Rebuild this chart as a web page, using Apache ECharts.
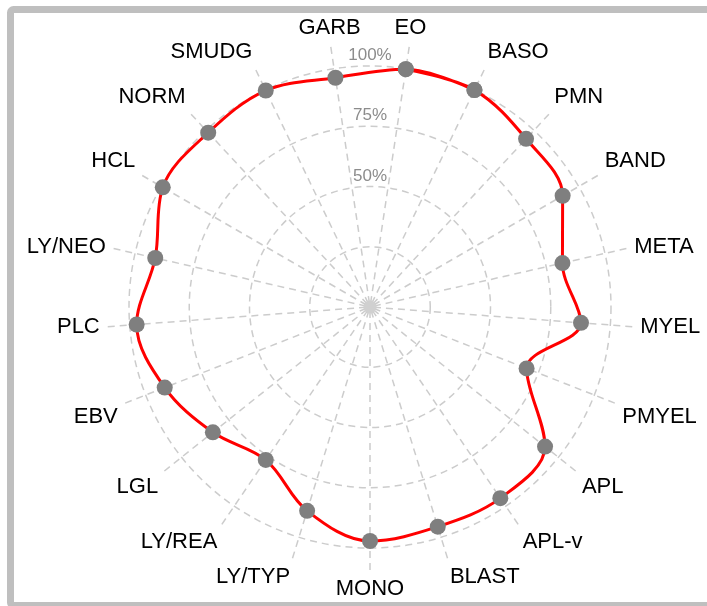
<!DOCTYPE html>
<html>
<head>
<meta charset="utf-8">
<script src="https://cdn.jsdelivr.net/npm/echarts@6/dist/echarts.min.js"></script>
<style>
html,body{margin:0;padding:0;background:#fff;}
#chart{width:707px;height:606px;}
</style>
</head>
<body>
<div id="chart"></div>
<script>
// Categories (clockwise from just right of top)
var categories = ['EO','BASO','PMN','BAND','META','MYEL','PMYEL','APL','APL-v','BLAST','MONO','LY/TYP','LY/REA','LGL','EBV','PLC','LY/NEO','HCL','NORM','SMUDG','GARB'];
// Values in percent
var values = [99.8, 99.9, 95.2, 92.3, 81.9, 87.8, 69.8, 92.9, 96.0, 95.4, 97.1, 88.5, 76.8, 83.4, 91.5, 97.1, 91.4, 99.3, 98.7, 99.7, 96.2];
// Radius tick labels
var ringTicks = [25, 50, 75, 100];
var ringLabels = {50: '50%', 75: '75%', 100: '100%'};

var CX = 370, CY = 307, R100 = 241, ROUT = 263;
var n = categories.length;
var startAng = 90 - 180 / n;

// Build closed loop (repeat first two points to close smoothly)
var lineData = [];
for (var i = 0; i < n; i++) lineData.push([values[i], i]);
lineData.push([values[0], n]);
lineData.push([values[1], n + 1]);

var chart = echarts.init(document.getElementById('chart'), null, {renderer: 'canvas'});
var gridColor = '#cccccc';
chart.setOption({
  animation: false,
  backgroundColor: '#ffffff',
  polar: [
    {center: [CX, CY], radius: R100},
    {center: [CX, CY], radius: ROUT}
  ],
  angleAxis: [
    {polarIndex: 0, type: 'value', min: 0, max: 360, startAngle: 90, show: false},
    {polarIndex: 1, type: 'value', min: 0, max: n, interval: 1, startAngle: startAng, clockwise: true,
     axisLine: {show: false}, axisTick: {show: false},
     splitLine: {show: true, lineStyle: {color: gridColor, width: 1.5, type: [7, 5]}},
     axisLabel: {show: true, margin: 8, color: '#000', fontSize: 22, fontFamily: 'Liberation Sans, Arial, sans-serif',
       formatter: function (v) { return categories[v] || ''; }}
    }
  ],
  radiusAxis: [
    {polarIndex: 0, type: 'value', min: 0, max: 100, interval: 25,
     axisLine: {show: false}, axisTick: {show: false},
     splitLine: {show: true, lineStyle: {color: gridColor, width: 1.5, type: [7, 5]}},
     axisLabel: {show: true, margin: 0, align: 'center', verticalAlign: 'bottom', padding: [0, 0, 2, 0],
       color: '#8c8c8c', fontSize: 17, fontFamily: 'Liberation Sans, Arial, sans-serif',
       formatter: function (v) { return ringLabels[v] || ''; }},
     z: 3
    },
    {polarIndex: 1, type: 'value', min: 0, max: 100 * ROUT / R100, show: false}
  ],
  series: [
    {type: 'line', coordinateSystem: 'polar', polarIndex: 1, data: lineData,
     smooth: 0.35, lineStyle: {color: '#ff0000', width: 3},
     symbol: 'circle', symbolSize: 16, showAllSymbol: true,
     itemStyle: {color: '#7f7f7f', borderWidth: 0}, z: 5}
  ],
  graphic: [
    {type: 'circle', shape: {cx: CX, cy: CY, r: 6.5}, style: {fill: '#d0d0d0'}, silent: true, z: 50},
    {type: 'rect', shape: {x: 10.5, y: 9.5, width: 720, height: 596, r: 3},
     style: {fill: 'none', stroke: '#bfbfbf', lineWidth: 7}, silent: true, z: 100}
  ]
});
</script>
</body>
</html>
